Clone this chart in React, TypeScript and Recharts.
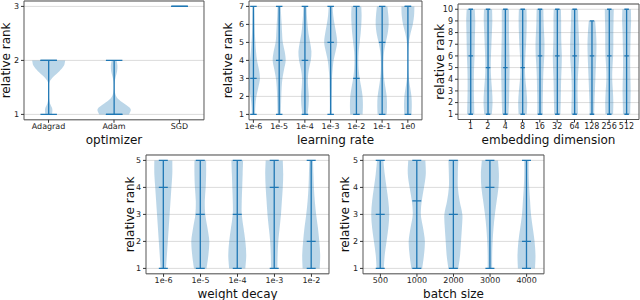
import { ComposedChart, Bar, XAxis, YAxis, CartesianGrid, ReferenceArea, Label } from "recharts";

const BLUE = "#1f77b4";
const FONT = "'DejaVu Sans', sans-serif";

// optimizer
const optLabels = ["Adagrad", "Adam", "SGD"];
const optMin = [1, 1, 3];
const optMax = [2, 2, 3];
const optMedian = [2, 1, 3];
// density read bottom (min) -> top (max), relative to each violin's widest point
const optDensity = [
  [0.2, 0.22, 0.08, 0.02, 0.01, 0.01, 0.05, 0.3, 0.65, 0.92, 1.0],
  [0.9, 1.0, 0.6, 0.2, 0.05, 0.02, 0.03, 0.1, 0.18, 0.2, 0.15],
  [],
];
const optTicks = [1, 2, 3];

// learning rate
const lrLabels = ["1e-6", "1e-5", "1e-4", "1e-3", "1e-2", "1e-1", "1e0"];
const lrMin = [1, 1, 1, 1, 1, 1, 1];
const lrMax = [7, 7, 7, 7, 7, 7, 7];
const lrMedian = [3, 4, 4, 5, 3, 5, 7];
const lrDensity = [
  [0.25, 0.3, 0.45, 0.75, 1.0, 0.85, 0.55, 0.4, 0.3, 0.22, 0.18, 0.15, 0.12],
  [0.25, 0.28, 0.32, 0.38, 0.5, 0.75, 1.0, 0.85, 0.55, 0.45, 0.38, 0.3, 0.25],
  [0.4, 0.55, 0.6, 0.5, 0.45, 0.6, 0.9, 1.0, 0.8, 0.55, 0.4, 0.3, 0.25],
  [0.15, 0.13, 0.15, 0.18, 0.2, 0.3, 0.45, 0.75, 1.0, 0.85, 0.6, 0.4, 0.3],
  [0.95, 1.0, 0.95, 0.75, 0.5, 0.35, 0.3, 0.35, 0.5, 0.65, 0.75, 0.8, 0.75],
  [0.7, 0.75, 0.7, 0.5, 0.3, 0.2, 0.2, 0.3, 0.55, 0.85, 1.0, 0.95, 0.8],
  [0.55, 0.6, 0.55, 0.35, 0.15, 0.06, 0.04, 0.05, 0.15, 0.4, 0.75, 0.95, 1.0],
];
const lrTicks = [1, 2, 3, 4, 5, 6, 7];

// embedding dimension
const embLabels = ["1", "2", "4", "8", "16", "32", "64", "128", "256", "512"];
const embMin = [1, 1, 1, 1, 1, 1, 1, 1, 1, 1];
const embMax = [10, 10, 10, 10, 10, 10, 10, 9, 10, 10];
const embMedian = [6, 5, 5, 5, 6, 6, 6, 6, 6, 6];
const embDensity = [
  [0.8, 0.75, 0.7, 0.7, 0.75, 0.85, 0.9, 0.95, 1.0, 0.9],
  [0.85, 1.0, 0.9, 0.7, 0.6, 0.65, 0.75, 0.85, 0.95, 0.9],
  [0.7, 0.8, 0.85, 0.9, 0.95, 0.9, 0.85, 0.8, 0.8, 0.8],
  [0.9, 1.0, 0.85, 0.6, 0.5, 0.6, 0.75, 0.85, 0.9, 0.85],
  [0.6, 0.6, 0.65, 0.7, 0.8, 0.95, 1.0, 0.9, 0.8, 0.75],
  [0.7, 0.75, 0.8, 0.85, 0.95, 1.0, 0.9, 0.85, 0.85, 0.8],
  [0.75, 0.7, 0.65, 0.7, 0.85, 1.0, 1.0, 0.9, 0.8, 0.75],
  [0.5, 0.55, 0.65, 0.75, 0.85, 0.95, 1.0, 0.9, 0.7],
  [0.85, 0.9, 0.8, 0.65, 0.7, 0.85, 0.9, 0.9, 0.95, 1.0],
  [0.8, 0.85, 0.9, 0.85, 0.8, 0.8, 0.85, 0.9, 1.0, 0.95],
];
const embTicks = [1, 2, 3, 4, 5, 6, 7, 8, 9, 10];

// weight decay
const wdLabels = ["1e-6", "1e-5", "1e-4", "1e-3", "1e-2"];
const wdMin = [1, 1, 1, 1, 1];
const wdMax = [5, 5, 5, 5, 5];
const wdMedian = [4, 3, 3, 4, 2];
const wdDensity = [
  [0.3, 0.4, 0.5, 0.6, 0.7, 0.8, 0.9, 1.0, 1.0],
  [0.7, 0.9, 1.0, 0.8, 0.55, 0.5, 0.6, 0.65, 0.65],
  [0.9, 1.0, 0.9, 0.7, 0.5, 0.5, 0.55, 0.6, 0.65],
  [0.35, 0.38, 0.45, 0.6, 0.75, 0.85, 0.95, 1.0, 0.95],
  [0.95, 1.0, 0.9, 0.75, 0.55, 0.4, 0.3, 0.25, 0.2],
];
const wdTicks = [1, 2, 3, 4, 5];

// batch size
const bsLabels = ["500", "1000", "2000", "3000", "4000"];
const bsMin = [1, 1, 1, 1, 1];
const bsMax = [5, 5, 5, 5, 5];
const bsMedian = [3, 3.5, 3, 4, 2];
const bsDensity = [
  [0.4, 0.5, 0.7, 0.9, 1.0, 0.9, 0.7, 0.5, 0.35],
  [0.6, 0.8, 0.9, 0.7, 0.45, 0.55, 0.8, 1.0, 0.95],
  [0.55, 0.75, 0.85, 0.95, 1.0, 0.7, 0.5, 0.5, 0.55],
  [0.25, 0.25, 0.3, 0.4, 0.55, 0.75, 0.95, 1.0, 0.9],
  [0.95, 1.0, 0.9, 0.7, 0.5, 0.4, 0.3, 0.25, 0.25],
];
const bsTicks = [1, 2, 3, 4, 5];

type Row = { pos: number; label: string; min: number; max: number; median: number; density: number[] };

const makeRows = (labels: string[], mins: number[], maxs: number[], meds: number[], dens: number[][]): Row[] =>
  labels.map((label, i) => ({ pos: i + 1, label, min: mins[i], max: maxs[i], median: meds[i], density: dens[i] }));

// catmull-rom through points -> cubic bezier segments
function smooth(pts: [number, number][]) {
  let d = "";
  for (let i = 0; i < pts.length - 1; i++) {
    const p0 = pts[Math.max(i - 1, 0)];
    const p1 = pts[i];
    const p2 = pts[i + 1];
    const p3 = pts[Math.min(i + 2, pts.length - 1)];
    const c1x = p1[0] + (p2[0] - p0[0]) / 6;
    const c1y = p1[1] + (p2[1] - p0[1]) / 6;
    const c2x = p2[0] - (p3[0] - p1[0]) / 6;
    const c2y = p2[1] - (p3[1] - p1[1]) / 6;
    d += ` C${c1x},${c1y} ${c2x},${c2y} ${p2[0]},${p2[1]}`;
  }
  return d;
}

function Violin(props: any) {
  const { x, y, width, height, payload } = props;
  const d: Row = payload;
  if (!d || x == null || y == null) return null;
  const top = Math.min(y, y + height);
  const bot = Math.max(y, y + height);
  const span = d.max - d.min;
  const toY = (v: number) => (span === 0 ? top : bot - ((bot - top) * (v - d.min)) / span);
  const cx = x + width / 2;
  const half = width / 2;
  const cap = width / 4;

  let body = null;
  if (d.density.length > 1) {
    const n = d.density.length;
    const right: [number, number][] = d.density.map((w, i) => [cx + half * w, toY(d.min + (span * i) / (n - 1))]);
    const left: [number, number][] = d.density
      .map((w, i) => [cx - half * w, toY(d.min + (span * i) / (n - 1))] as [number, number])
      .reverse();
    const path =
      `M${left[n - 1][0]},${left[n - 1][1]} L${right[0][0]},${right[0][1]}` +
      smooth(right) +
      ` L${left[0][0]},${left[0][1]}` +
      smooth(left) +
      " Z";
    body = <path d={path} fill={BLUE} fillOpacity={0.3} stroke="none" />;
  }
  const yMed = toY(d.median);
  return (
    <g>
      {body}
      <line x1={cx} x2={cx} y1={top} y2={bot} stroke={BLUE} strokeWidth={1.3} />
      <line x1={cx - cap} x2={cx + cap} y1={top} y2={top} stroke={BLUE} strokeWidth={1.3} />
      <line x1={cx - cap} x2={cx + cap} y1={bot} y2={bot} stroke={BLUE} strokeWidth={1.3} />
      <line x1={cx - cap} x2={cx + cap} y1={yMed} y2={yMed} stroke={BLUE} strokeWidth={1.3} />
    </g>
  );
}

type Frame = { l: number; r: number; t: number; b: number };

function Panel({
  rows, xlabel, yTicks, xDom, yDom, frame, ylabX,
}: {
  rows: Row[]; xlabel: string; yTicks: number[]; xDom: [number, number]; yDom: [number, number]; frame: Frame; ylabX: number;
}) {
  const L0 = ylabX - 8;
  const mt = 2;
  const xh = 30;
  const W = frame.r - L0 + 3;
  const H = frame.b - frame.t + mt + xh;
  const positions = rows.map((r) => r.pos);
  return (
    <div style={{ position: "absolute", left: L0, top: frame.t - mt }}>
      <ComposedChart width={W} height={H} data={rows} margin={{ top: mt, right: 3, left: 0, bottom: 0 }} barCategoryGap="25%">
        <CartesianGrid vertical={false} stroke="#dcdcdc" />
        <XAxis
          dataKey="pos"
          type="number"
          domain={xDom}
          ticks={positions}
          interval={0}
          allowDataOverflow
          height={xh}
          tickSize={3}
          tickMargin={1}
          axisLine={false}
          tickLine={{ stroke: "#333" }}
          tick={{ fontSize: 8, fill: "#222", fontFamily: FONT }}
          tickFormatter={(v: number) => rows[v - 1]?.label ?? ""}
        >
          <Label
            content={(p: any) => {
              const vb = p.viewBox;
              return (
                <text x={vb.x + vb.width / 2} y={vb.y + 20} textAnchor="middle" dominantBaseline="central" fontSize={12} fontFamily={FONT} fill="#111">
                  {xlabel}
                </text>
              );
            }}
          />
        </XAxis>
        <YAxis
          type="number"
          domain={yDom}
          ticks={yTicks}
          interval={0}
          allowDataOverflow
          width={frame.l - L0}
          tickSize={3}
          tickMargin={2}
          axisLine={false}
          tickLine={{ stroke: "#333" }}
          tick={{ fontSize: 8, fill: "#222", fontFamily: FONT }}
        >
          <Label
            content={(p: any) => {
              const vb = p.viewBox;
              const cx = vb.x + 8;
              const cy = vb.y + vb.height / 2;
              return (
                <text x={cx} y={cy} transform={`rotate(-90 ${cx} ${cy})`} textAnchor="middle" dominantBaseline="central" fontSize={12} fontFamily={FONT} fill="#111">
                  relative rank
                </text>
              );
            }}
          />
        </YAxis>
        <Bar dataKey={(d: Row) => [d.min, d.max]} shape={(p: any) => <Violin {...p} />} isAnimationActive={false} />
        <ReferenceArea x1={xDom[0]} x2={xDom[1]} y1={yDom[0]} y2={yDom[1]} fill="none" stroke="#555" strokeWidth={1} ifOverflow="visible" />
      </ComposedChart>
    </div>
  );
}

export default function App() {
  return (
    <div style={{ position: "absolute", left: 0, top: 0, width: 640, height: 300, background: "#fff" }}>
      <Panel rows={makeRows(optLabels, optMin, optMax, optMedian, optDensity)} xlabel="optimizer" yTicks={optTicks}
        xDom={[0.625, 3.375]} yDom={[0.9, 3.1]} frame={{ l: 24, r: 204, t: 0.6, b: 119.4 }} ylabX={6} />
      <Panel rows={makeRows(lrLabels, lrMin, lrMax, lrMedian, lrDensity)} xlabel="learning rate" yTicks={lrTicks}
        xDom={[0.83, 7.55]} yDom={[0.7, 7.3]} frame={{ l: 249, r: 422, t: 0.6, b: 119.4 }} ylabX={228} />
      <Panel rows={makeRows(embLabels, embMin, embMax, embMedian, embDensity)} xlabel="embedding dimension" yTicks={embTicks}
        xDom={[0.275, 10.725]} yDom={[0.55, 10.45]} frame={{ l: 458, r: 639, t: 4, b: 119.5 }} ylabX={440} />
      <Panel rows={makeRows(wdLabels, wdMin, wdMax, wdMedian, wdDensity)} xlabel="weight decay" yTicks={wdTicks}
        xDom={[0.525, 5.475]} yDom={[0.8, 5.2]} frame={{ l: 146, r: 329, t: 154.6, b: 273.4 }} ylabX={130} />
      <Panel rows={makeRows(bsLabels, bsMin, bsMax, bsMedian, bsDensity)} xlabel="batch size" yTicks={bsTicks}
        xDom={[0.525, 5.475]} yDom={[0.8, 5.2]} frame={{ l: 363, r: 544, t: 154.6, b: 273.4 }} ylabX={345} />
    </div>
  );
}
